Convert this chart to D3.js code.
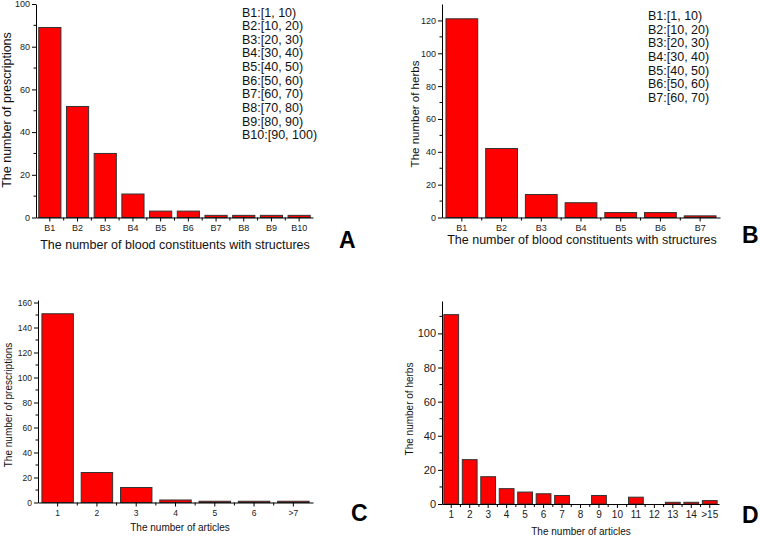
<!DOCTYPE html>
<html>
<head>
<meta charset="utf-8">
<script src="https://cdn.jsdelivr.net/npm/d3@7"></script>
<style>
  html, body { margin: 0; padding: 0; background: #fff; }
  svg { display: block; font-family: "Liberation Sans", Arial, sans-serif; }
</style>
</head>
<body>
<svg id="chart" width="760" height="537"></svg>
<script>
// ---- Data ----
const catsA = ["B1","B2","B3","B4","B5","B6","B7","B8","B9","B10"];
const valsA = [89, 52, 30, 11, 3, 3, 1, 1, 1, 1];
const legendA = ["B1:[1, 10)","B2:[10, 20)","B3:[20, 30)","B4:[30, 40)","B5:[40, 50)","B6:[50, 60)","B7:[60, 70)","B8:[70, 80)","B9:[80, 90)","B10:[90, 100)"];
const ticksA = [0, 20, 40, 60, 80, 100];

const catsB = ["B1","B2","B3","B4","B5","B6","B7"];
const valsB = [121, 42, 14, 9, 3, 3, 1];
const legendB = ["B1:[1, 10)","B2:[10, 20)","B3:[20, 30)","B4:[30, 40)","B5:[40, 50)","B6:[50, 60)","B7:[60, 70)"];
const ticksB = [0, 20, 40, 60, 80, 100, 120];

const catsC = ["1","2","3","4","5","6",">7"];
const valsC = [151, 24, 12, 2, 1, 1, 1];
const ticksC = [0, 20, 40, 60, 80, 100, 120, 140, 160];

const catsD = ["1","2","3","4","5","6","7","8","9","10","11","12","13","14",">15"];
const valsD = [111, 26, 16, 9, 7, 6, 5, 0, 5, 0, 4, 0, 1, 1, 2];
const ticksD = [0, 20, 40, 60, 80, 100];

const svg = d3.select("#chart");

function panel(cfg) {
  const g = svg.append("g");
  const x = d3.scaleBand().domain(cfg.cats).range([cfg.x0, cfg.x1]).paddingInner(0.2).paddingOuter(0.1);
  const y = d3.scaleLinear().domain([0, cfg.ymax]).range([cfg.y0, cfg.y1]);

  // bars
  g.selectAll("rect.bar").data(cfg.cats.map((c, i) => ({c, v: cfg.vals[i]})).filter(d => d.v > 0))
    .join("rect")
    .attr("x", d => x(d.c))
    .attr("y", d => y(d.v))
    .attr("width", x.bandwidth())
    .attr("height", d => y(0) - y(d.v))
    .attr("fill", "#ff0000")
    .attr("stroke", "#333")
    .attr("stroke-width", 1);

  // x axis
  const xa = g.append("g").attr("transform", `translate(0,${cfg.y0})`)
    .call(d3.axisBottom(x).tickSizeInner(4).tickSizeOuter(0).tickPadding(3));
  xa.select(".domain").attr("stroke", "#000");
  xa.selectAll(".tick line").attr("stroke", "#000");
  xa.selectAll(".tick text").attr("font-size", cfg.tickFont).attr("fill", "#1a1a1a")
    .attr("font-family", "Liberation Sans, Arial, sans-serif");
  // minor x ticks at band boundaries
  const bounds = cfg.cats.slice(1).map(c => x(c) - x.step() * x.paddingInner() / 2);
  g.selectAll("line.xminor").data(bounds).join("line")
    .attr("x1", d => d).attr("x2", d => d)
    .attr("y1", cfg.y0).attr("y2", cfg.y0 + 3)
    .attr("stroke", "#000");

  // y axis
  const ya = g.append("g").attr("transform", `translate(${cfg.x0},0)`)
    .call(d3.axisLeft(y).tickValues(cfg.ticks).tickSizeInner(4).tickSizeOuter(0).tickPadding(2).tickFormat(d3.format("d")));
  ya.select(".domain").attr("stroke", "#000");
  ya.selectAll(".tick line").attr("stroke", "#000");
  ya.selectAll(".tick text").attr("font-size", cfg.yTickFont || cfg.tickFont).attr("fill", "#1a1a1a")
    .attr("font-family", "Liberation Sans, Arial, sans-serif");
  const minors = d3.range(10, cfg.ymax, 20);
  g.selectAll("line.yminor").data(minors).join("line")
    .attr("x1", cfg.x0 - 2.5).attr("x2", cfg.x0)
    .attr("y1", d => y(d)).attr("y2", d => y(d))
    .attr("stroke", "#000");

  // axis titles
  g.append("text").attr("x", cfg.xtX).attr("y", cfg.xtY)
    .attr("text-anchor", "middle").attr("font-size", cfg.titleFont).attr("fill", "#111")
    .text(cfg.xTitle);
  g.append("text").attr("transform", `translate(${cfg.ytX},${cfg.ytY}) rotate(-90)`)
    .attr("text-anchor", "middle").attr("dy", "0.35em").attr("font-size", cfg.yTitleFont).attr("fill", "#111")
    .text(cfg.yTitle);

  // legend
  if (cfg.legend) {
    g.selectAll("text.leg").data(cfg.legend).join("text")
      .attr("x", cfg.legX).attr("y", (d, i) => cfg.legY + i * 13.65)
      .attr("font-size", 12.5).attr("fill", "#111").text(d => d);
  }

  // panel letter
  g.append("text").attr("x", cfg.lblX).attr("y", cfg.lblY)
    .attr("font-size", 23).attr("font-weight", "bold").attr("fill", "#000").text(cfg.label);
}

panel({cats: catsA, vals: valsA, ticks: ticksA, ymax: 100,
  x0: 36, x1: 313, y0: 217.5, y1: 4,
  tickFont: 9, titleFont: 12.5, yTitleFont: 12.5,
  xTitle: "The number of blood constituents with structures", xtX: 175, xtY: 249,
  yTitle: "The number of prescriptions", ytX: 7, ytY: 110,
  legend: legendA, legX: 242, legY: 16.5,
  label: "A", lblX: 339, lblY: 248});

panel({cats: catsB, vals: valsB, ticks: ticksB, ymax: 130,
  x0: 442, x1: 720, y0: 217.5, y1: 4,
  tickFont: 9, titleFont: 12.5, yTitleFont: 11.5,
  xTitle: "The number of blood constituents with structures", xtX: 582, xtY: 244,
  yTitle: "The number of herbs", ytX: 415, ytY: 114,
  legend: legendB, legX: 648, legY: 20,
  label: "B", lblX: 742, lblY: 243});

panel({cats: catsC, vals: valsC, ticks: ticksC, ymax: 162,
  x0: 38, x1: 313, y0: 502.5, y1: 300,
  tickFont: 8.5, titleFont: 10, yTitleFont: 10,
  xTitle: "The number of articles", xtX: 180, xtY: 531,
  yTitle: "The number of prescriptions", ytX: 8, ytY: 405,
  legend: null,
  label: "C", lblX: 351, lblY: 521});

panel({cats: catsD, vals: valsD, ticks: ticksD, ymax: 119,
  x0: 442, x1: 719, y0: 504, y1: 301,
  tickFont: 10, yTickFont: 11, titleFont: 10, yTitleFont: 10,
  xTitle: "The number of articles", xtX: 581, xtY: 535,
  yTitle: "The number of herbs", ytX: 409, ytY: 409,
  legend: null,
  label: "D", lblX: 742, lblY: 523});
</script>
</body>
</html>
